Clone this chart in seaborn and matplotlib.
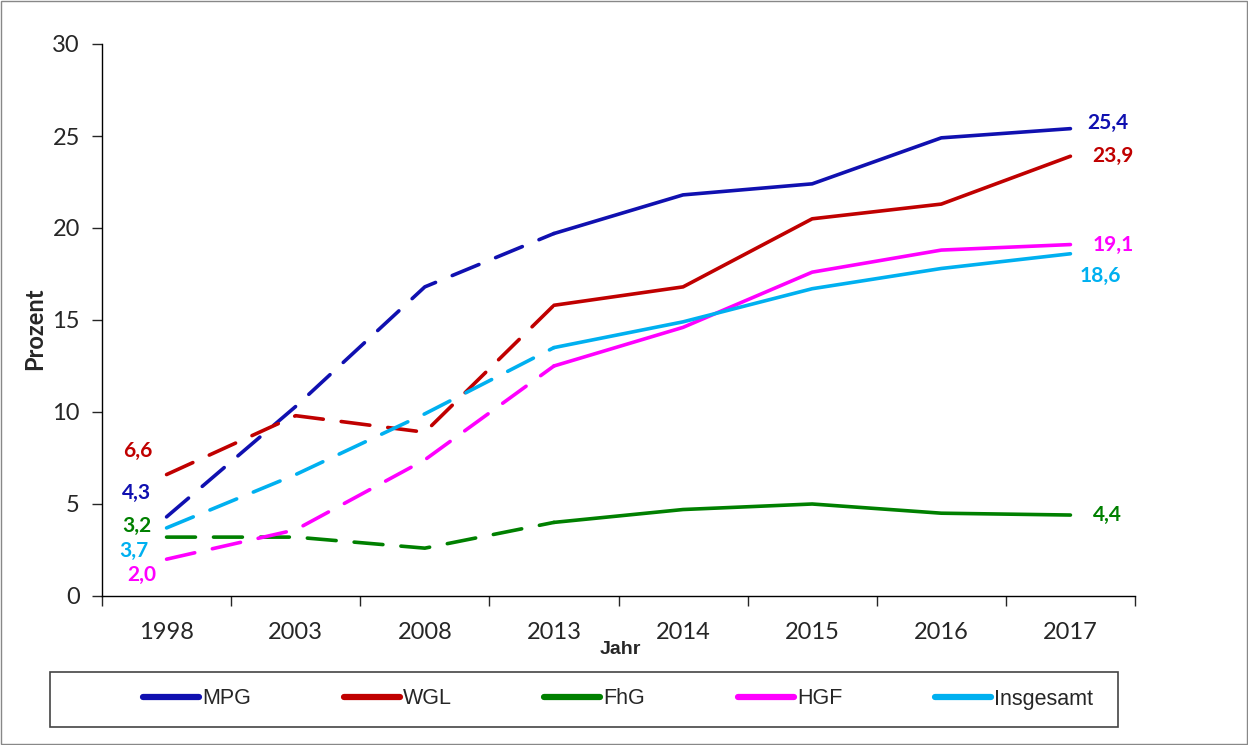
import matplotlib
matplotlib.use("Agg")
import matplotlib.pyplot as plt
import seaborn as sns
import numpy as np
from matplotlib.patches import Rectangle
from matplotlib.lines import Line2D

years = ["1998", "2003", "2008", "2013", "2014", "2015", "2016", "2017"]
mpg = [4.3, 10.3, 16.8, 19.7, 21.8, 22.4, 24.9, 25.4]
wgl = [6.6, 9.8, 8.9, 15.8, 16.8, 20.5, 21.3, 23.9]
fhg = [3.2, 3.2, 2.6, 4.0, 4.7, 5.0, 4.5, 4.4]
hgf = [2.0, 3.6, 7.4, 12.5, 14.6, 17.6, 18.8, 19.1]
insg = [3.7, 6.6, 9.9, 13.5, 14.9, 16.7, 17.8, 18.6]
names = ["MPG", "WGL", "FhG", "HGF", "Insgesamt"]
colors = ["#1010b0", "#c00000", "#008000", "#ff00ff", "#00b0f0"]
series = [mpg, wgl, fhg, hgf, insg]

first_labels = ["4,3", "6,6", "3,2", "2,0", "3,7"]
last_labels = ["25,4", "23,9", "4,4", "19,1", "18,6"]

sns.set_style("white")
plt.rcParams['font.family'] = ['Liberation Sans', 'DejaVu Sans']
calibri_like = ['Lato', 'DejaVu Sans']

fig = plt.figure(figsize=(12.48, 7.45), dpi=100)
ax = fig.add_axes([102/1248, 1-596/745, (1135-102)/1248, (596-44)/745])

x = np.arange(len(years))
lw = 2.6
for vals, col in zip(series, colors):
    sns.lineplot(x=x[:4], y=vals[:4], ax=ax, color=col, lw=lw,
                 linestyle=(0, (8.0, 5.0)), dash_capstyle='round', sort=False)
    sns.lineplot(x=x[3:], y=vals[3:], ax=ax, color=col, lw=lw,
                 solid_capstyle='round', sort=False)

ax.set_xlim(-0.5, 7.5)
ax.set_ylim(0, 30)
ax.set_yticks(np.arange(0, 31, 5))
ax.set_yticklabels([str(v) for v in range(0, 31, 5)], fontsize=17, family=calibri_like)
ax.set_xticks(x)
ax.set_xticklabels(years, fontsize=17, family=calibri_like)
ax.set_xticks(np.arange(-0.5, 8, 1), minor=True)
ax.tick_params(axis='x', which='major', length=0, pad=19)
ax.tick_params(axis='x', which='minor', length=7, width=1, direction='out', bottom=True)
ax.tick_params(axis='y', length=7, width=1, direction='out', left=True, pad=9)
for s in ['top', 'right']:
    ax.spines[s].set_visible(False)
for s in ['left', 'bottom']:
    ax.spines[s].set_color('black')
    ax.spines[s].set_linewidth(1)

ax.set_ylabel("Prozent", fontsize=17, fontweight='bold', family=calibri_like, va='center')
ax.yaxis.set_label_coords((35-102)/1033, (596-329)/552)
ax.set_xlabel("Jahr", fontsize=14, fontweight='bold', va='center')
ax.xaxis.set_label_coords((620-102)/1033, (596-650)/552)

# data labels
first_pos = {"6,6": (-0.225, 7.88), "4,3": (-0.23, 5.6), "3,2": (-0.23, 3.8),
             "3,7": (-0.25, 2.45), "2,0": (-0.19, 1.14)}
last_pos = {"25,4": (7.29, 25.7), "23,9": (7.33, 23.9), "19,1": (7.33, 19.1),
            "18,6": (7.23, 17.4), "4,4": (7.29, 4.4)}
for lbl, col in zip(first_labels, colors):
    px, py = first_pos[lbl]
    ax.text(px, py, lbl, color=col, fontsize=15, fontweight='bold',
            family=calibri_like, ha='center', va='center')
for lbl, col in zip(last_labels, colors):
    px, py = last_pos[lbl]
    ax.text(px, py, lbl, color=col, fontsize=15, fontweight='bold',
            family=calibri_like, ha='center', va='center')

# legend
handles = [Line2D([0], [0], color=c, lw=4.5) for c in colors]
fig.legend(handles, names, loc='center left', ncol=5, frameon=False,
           bbox_to_anchor=(143/1248, 1-699/745), fontsize=15.5,
           handlelength=2.6, handletextpad=0.15, columnspacing=4.3,
           borderaxespad=0, borderpad=0)
fig.patches.append(Rectangle((50/1248, 1-727/745), (1118-50)/1248, 55/745,
                             transform=fig.transFigure, fill=False,
                             edgecolor='#444444', lw=1.2))
fig.patches.append(Rectangle((1/1248, 1/745), 1246/1248, 743/745,
                             transform=fig.transFigure, fill=False,
                             edgecolor='#888888', lw=1))

fig.savefig("out.png", dpi=100)
